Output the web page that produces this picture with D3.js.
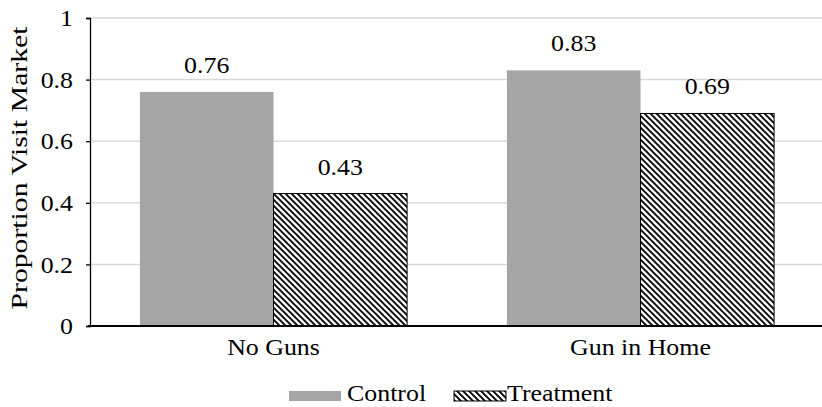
<!DOCTYPE html>
<html><head><meta charset="utf-8">
<script src="https://cdn.jsdelivr.net/npm/d3@7"></script>
<style>body{margin:0;background:#fff}text{font-family:"Liberation Serif","Times New Roman",serif;fill:#000}</style>
</head><body><svg id="c" width="822" height="407"></svg>
<script>
const categories = ["No Guns", "Gun in Home"];
const seriesNames = ["Control", "Treatment"];
const controlValues = [0.76, 0.83];
const treatmentValues = [0.43, 0.69];
const yTicks = [0, 0.2, 0.4, 0.6, 0.8, 1];
const yTickLabels = ["0", "0.2", "0.4", "0.6", "0.8", "1"];
const yTitle = "Proportion Visit Market";

const svg = d3.select("#c");
const fs = 22.5;
const stretch = 1.15;
const FF = "Liberation Serif";
const defs = svg.append("defs");
const pat = defs.append("pattern").attr("id","hatch").attr("patternUnits","userSpaceOnUse")
  .attr("width",6).attr("height",6);
pat.append("rect").attr("width",6).attr("height",6).attr("fill","#fff");
pat.append("path").attr("d","M-1,-1 L7,7 M-4,2 L2,8 M4,-2 L10,4").attr("stroke","#000").attr("stroke-width",1.9);

const y = d3.scaleLinear().domain([0,1]).range([326,18]);
const x0 = d3.scaleBand().domain(categories).range([90,824]).paddingInner(0.272).paddingOuter(0.136);
const x1 = d3.scaleBand().domain(seriesNames).range([0,x0.bandwidth()]);

function widen(sel, f){
  sel.each(function(){ const L=this.getComputedTextLength(); d3.select(this).attr("textLength",L*(f||stretch)).attr("lengthAdjust","spacingAndGlyphs"); });
}

// gridlines
svg.append("g").selectAll("line").data(yTicks.slice(1)).join("line")
  .attr("x1",90).attr("x2",822).attr("y1",d=>y(d)).attr("y2",d=>y(d))
  .attr("stroke","#d9d9d9").attr("stroke-width",1.5);

const data = categories.map((c,i)=>({c, vals:[{s:"Control",v:controlValues[i]},{s:"Treatment",v:treatmentValues[i]}]}));
const g = svg.append("g").selectAll("g").data(data).join("g").attr("transform",d=>`translate(${x0(d.c)},0)`);
g.selectAll("rect").data(d=>d.vals).join("rect")
  .attr("x",d=>x1(d.s)).attr("width",x1.bandwidth())
  .attr("y",d=>y(d.v)).attr("height",d=>y(0)-y(d.v))
  .attr("fill",d=>d.s==="Control"?"#a5a5a5":"url(#hatch)")
  .attr("stroke",d=>d.s==="Control"?"none":"#000").attr("stroke-width",1);
const vl = g.selectAll("text").data(d=>d.vals).join("text")
  .attr("x",d=>x1(d.s)+x1.bandwidth()/2).attr("y",d=>y(d.v)-19)
  .attr("text-anchor","middle").attr("font-size",fs).text(d=>d.v.toFixed(2));
widen(vl);

// y axis
const ya = svg.append("g").attr("transform","translate(90,0)")
  .call(d3.axisLeft(y).tickValues(yTicks).tickFormat((d,i)=>yTickLabels[i]).tickSize(4).tickPadding(13));
ya.select(".domain").attr("stroke","#000").attr("stroke-width",1.3);
ya.selectAll(".tick line").attr("stroke","#000").attr("stroke-width",1.3);
ya.selectAll("text").attr("font-size",fs).attr("font-family",FF).attr("dy","0.34em");
widen(ya.selectAll("text"));

// x axis line
svg.append("line").attr("x1",88).attr("x2",822).attr("y1",y(0)).attr("y2",y(0)).attr("stroke","#000").attr("stroke-width",2.2);
const xa = svg.append("g").attr("transform",`translate(0,${y(0)})`)
  .call(d3.axisBottom(x0).tickSize(0).tickPadding(0));
xa.select(".domain").remove();
xa.selectAll("text").attr("font-size",fs).attr("font-family",FF).attr("dy",null).attr("y",29);
widen(xa.selectAll("text"));

const t = svg.append("text").attr("transform","translate(27,168) rotate(-90)").attr("text-anchor","middle")
  .attr("font-size",24).text(yTitle);
t.attr("textLength",283).attr("lengthAdjust","spacingAndGlyphs");

// legend
const leg = [{s:"Control",x:289,tx:347},{s:"Treatment",x:454,tx:507}];
leg.forEach(l=>{
  svg.append("rect").attr("x",l.x).attr("y",391).attr("width",52).attr("height",10)
    .attr("fill",l.s==="Control"?"#a5a5a5":"url(#hatch)").attr("stroke",l.s==="Control"?"none":"#000").attr("stroke-width",1);
  const tt = svg.append("text").attr("x",l.tx).attr("y",401).attr("font-size",fs).text(l.s);
  widen(tt);
});
</script></body></html>
